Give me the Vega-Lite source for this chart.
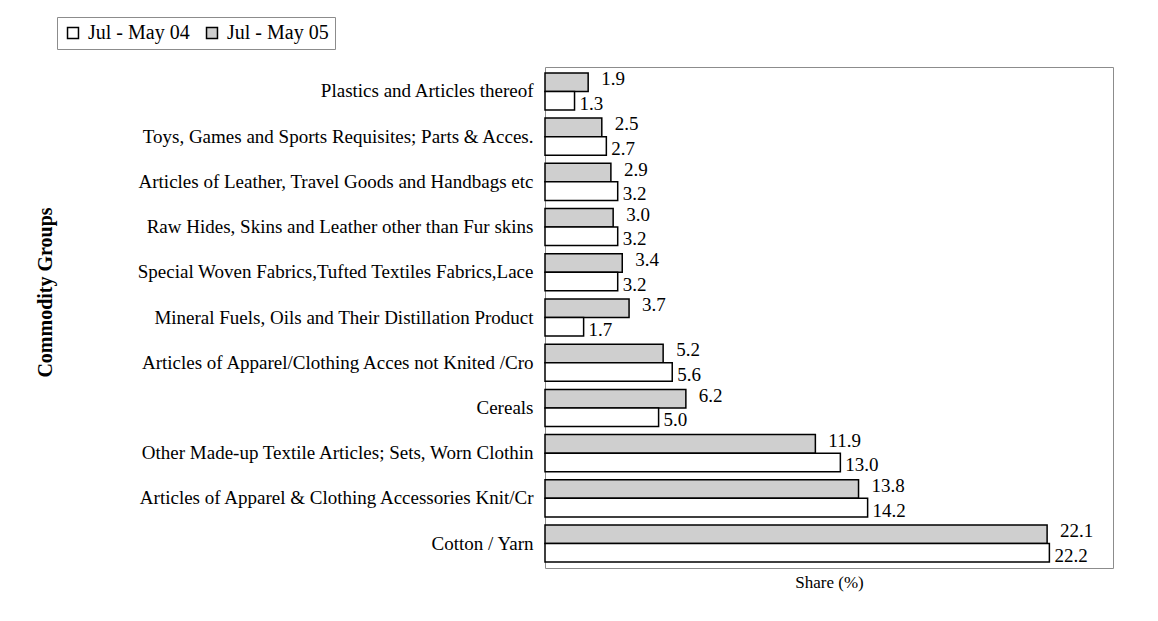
{
  "$schema": "https://vega.github.io/schema/vega-lite/v6.json",
  "width": 568,
  "height": 501,
  "autosize": {"type": "none"},
  "padding": {"left": 545, "top": 67, "right": 45, "bottom": 53},
  "background": "white",
  "config": {
    "font": "Liberation Serif",
    "view": {"stroke": "#8c8c8c", "strokeWidth": 1},
    "axisX": {"titleFont": "Liberation Serif", "titleFontSize": 17, "titleFontWeight": "normal", "titleColor": "black"}
  },
  "data": {
    "values": [
      {"group": "Plastics and Articles thereof", "period": "Jul - May 05", "share": 1.9},
      {"group": "Plastics and Articles thereof", "period": "Jul - May 04", "share": 1.3},
      {"group": "Toys, Games and Sports Requisites; Parts & Acces.", "period": "Jul - May 05", "share": 2.5},
      {"group": "Toys, Games and Sports Requisites; Parts & Acces.", "period": "Jul - May 04", "share": 2.7},
      {"group": "Articles of Leather, Travel Goods and Handbags etc", "period": "Jul - May 05", "share": 2.9},
      {"group": "Articles of Leather, Travel Goods and Handbags etc", "period": "Jul - May 04", "share": 3.2},
      {"group": "Raw Hides, Skins and Leather other than Fur skins", "period": "Jul - May 05", "share": 3.0},
      {"group": "Raw Hides, Skins and Leather other than Fur skins", "period": "Jul - May 04", "share": 3.2},
      {"group": "Special Woven Fabrics,Tufted Textiles Fabrics,Lace", "period": "Jul - May 05", "share": 3.4},
      {"group": "Special Woven Fabrics,Tufted Textiles Fabrics,Lace", "period": "Jul - May 04", "share": 3.2},
      {"group": "Mineral Fuels, Oils and Their Distillation Product", "period": "Jul - May 05", "share": 3.7},
      {"group": "Mineral Fuels, Oils and Their Distillation Product", "period": "Jul - May 04", "share": 1.7},
      {"group": "Articles of Apparel/Clothing Acces not Knited /Cro", "period": "Jul - May 05", "share": 5.2},
      {"group": "Articles of Apparel/Clothing Acces not Knited /Cro", "period": "Jul - May 04", "share": 5.6},
      {"group": "Cereals", "period": "Jul - May 05", "share": 6.2},
      {"group": "Cereals", "period": "Jul - May 04", "share": 5.0},
      {"group": "Other Made-up Textile Articles; Sets, Worn Clothin", "period": "Jul - May 05", "share": 11.9},
      {"group": "Other Made-up Textile Articles; Sets, Worn Clothin", "period": "Jul - May 04", "share": 13.0},
      {"group": "Articles of Apparel & Clothing Accessories Knit/Cr", "period": "Jul - May 05", "share": 13.8},
      {"group": "Articles of Apparel & Clothing Accessories Knit/Cr", "period": "Jul - May 04", "share": 14.2},
      {"group": "Cotton / Yarn", "period": "Jul - May 05", "share": 22.1},
      {"group": "Cotton / Yarn", "period": "Jul - May 04", "share": 22.2}
    ]
  },
  "encoding": {
    "y": {
      "field": "group",
      "type": "nominal",
      "sort": null,
      "scale": {"paddingInner": 0.18, "paddingOuter": 0.13},
      "axis": {
        "title": "Commodity Groups",
        "titleFont": "Liberation Serif",
        "titleFontSize": 20,
        "titleFontWeight": "bold",
        "titleColor": "black",
        "titleX": -500,
        "titleY": 225,
        "titleBaseline": "middle",
        "titleAlign": "center",
        "labelFont": "Liberation Serif",
        "labelFontSize": 19,
        "labelColor": "black",
        "labelLimit": 0,
        "labelPadding": 12,
        "ticks": false,
        "domain": false,
        "grid": false
      }
    },
    "yOffset": {
      "field": "period",
      "type": "nominal",
      "sort": ["Jul - May 05", "Jul - May 04"]
    },
    "x": {
      "field": "share",
      "type": "quantitative",
      "scale": {"domain": [0, 25], "nice": false},
      "axis": {
        "title": "Share (%)",
        "titleFont": "Liberation Serif",
        "titleFontSize": 17,
        "titleFontWeight": "normal",
        "titleColor": "black",
        "titlePadding": 6,
        "labels": false,
        "ticks": false,
        "domain": false,
        "grid": false
      }
    }
  },
  "layer": [
    {
      "mark": {"type": "bar", "stroke": "black", "strokeWidth": 1.5},
      "encoding": {
        "fill": {
          "field": "period",
          "type": "nominal",
          "scale": {"domain": ["Jul - May 04", "Jul - May 05"], "range": ["white", "#cfcfcf"]},
          "legend": {
            "title": null,
            "orient": "none",
            "legendX": -488,
            "legendY": -50,
            "direction": "horizontal",
            "symbolType": "square",
            "symbolSize": 120,
            "symbolStrokeColor": "black",
            "symbolStrokeWidth": 1.5,
            "labelFont": "Liberation Serif",
            "labelFontSize": 20,
            "labelColor": "black",
            "labelOffset": 5,
            "columnPadding": 12,
            "strokeColor": "#8c8c8c",
            "padding": 6,
            "fillColor": "white"
          }
        }
      }
    },
    {
      "transform": [{"filter": "datum.period === 'Jul - May 05'"}],
      "mark": {"type": "text", "align": "left", "baseline": "middle", "dx": 13, "dy": -3, "fontSize": 19, "font": "Liberation Serif", "color": "black"},
      "encoding": {"text": {"field": "share", "type": "quantitative", "format": ".1f"}}
    },
    {
      "transform": [{"filter": "datum.period === 'Jul - May 04'"}],
      "mark": {"type": "text", "align": "left", "baseline": "middle", "dx": 5, "dy": 3, "fontSize": 19, "font": "Liberation Serif", "color": "black"},
      "encoding": {"text": {"field": "share", "type": "quantitative", "format": ".1f"}}
    }
  ]
}
